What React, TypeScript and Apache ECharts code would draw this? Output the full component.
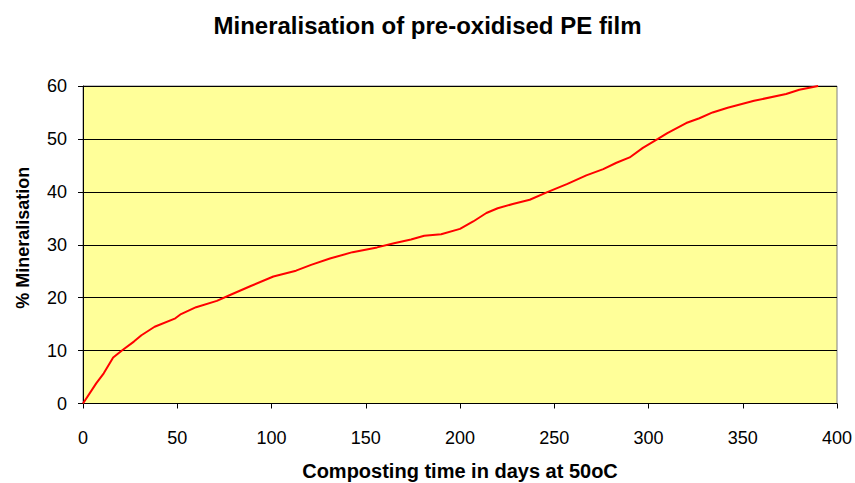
import React, { useEffect, useRef } from "react";
import * as echarts from "echarts";

const days = [0, 7, 11, 16, 21, 27, 31, 38, 49, 52, 60, 71, 78, 89, 101, 113, 121, 131, 143, 156, 165, 174, 181, 190, 200, 207, 214, 220, 228, 237, 246, 257, 267, 276, 283, 290, 297, 305, 310, 320, 327, 334, 342, 356, 373, 380, 390];
const mineralisation = [0, 3.8, 5.7, 8.7, 10.1, 11.7, 12.9, 14.5, 16.1, 16.9, 18.2, 19.4, 20.5, 22.2, 24, 25.1, 26.2, 27.4, 28.6, 29.5, 30.3, 31, 31.7, 32, 33, 34.4, 36, 36.9, 37.7, 38.5, 39.9, 41.5, 43.1, 44.3, 45.5, 46.5, 48.3, 50, 51.1, 53, 53.9, 55, 55.9, 57.2, 58.5, 59.3, 60];
const xTicks = [0, 50, 100, 150, 200, 250, 300, 350, 400];
const yTicks = [0, 10, 20, 30, 40, 50, 60];

const titleText = "Mineralisation of pre-oxidised PE film";
const xName = "Composting time in days at 50oC";
const yName = "% Mineralisation";

export default function App() {
  const ref = useRef<HTMLDivElement>(null);
  useEffect(() => {
    if (!ref.current) return;
    const chart = echarts.init(ref.current, undefined, { renderer: "svg" });
    const font = "Liberation Sans, Arial, sans-serif";
    chart.setOption({
      animation: false,
      title: {
        text: titleText,
        left: "center",
        top: 8,
        textStyle: { fontFamily: font, fontSize: 24, fontWeight: "bold", color: "#000" },
      },
      grid: {
        left: 83,
        right: 18,
        top: 86,
        bottom: 79.5,
        show: true,
        containLabel: false,
        outerBoundsMode: "none",
        backgroundColor: "#FFFF99",
        borderColor: "#808080",
        borderWidth: 1,
      },
      xAxis: {
        type: "value",
        min: xTicks[0],
        max: xTicks[xTicks.length - 1],
        interval: 50,
        name: xName,
        nameLocation: "middle",
        nameGap: 57,
        nameTextStyle: { fontFamily: font, fontSize: 20, fontWeight: "bold", color: "#000", lineHeight: 20 },
        axisLine: { show: true, lineStyle: { color: "#000", width: 1 } },
        axisTick: { show: true, length: 5, inside: false, lineStyle: { color: "#000" } },
        axisLabel: { fontFamily: font, fontSize: 18, color: "#000", margin: 25 },
        splitLine: { show: false },
      },
      yAxis: {
        type: "value",
        min: yTicks[0],
        max: yTicks[yTicks.length - 1],
        interval: 10,
        name: yName,
        nameLocation: "middle",
        nameGap: 51,
        nameRotate: 90,
        nameTextStyle: { fontFamily: font, fontSize: 18, fontWeight: "bold", color: "#000", padding: [0, 0, 0, 14] },
        axisLine: { show: true, lineStyle: { color: "#000", width: 1 } },
        axisTick: { show: true, length: 5, inside: false, lineStyle: { color: "#000" } },
        axisLabel: { fontFamily: font, fontSize: 18, color: "#000", margin: 16 },
        splitLine: { show: true, lineStyle: { color: "#000", width: 1 } },
      },
      series: [
        {
          type: "line",
          data: days.map((d, i) => [d, mineralisation[i]]),
          showSymbol: false,
          symbol: "none",
          lineStyle: { color: "#FF0000", width: 2 },
          clip: true,
        },
      ],
    });
    return () => chart.dispose();
  }, []);
  return <div ref={ref} style={{ width: 855, height: 483, position: "absolute", left: 0, top: 0 }} />;
}
